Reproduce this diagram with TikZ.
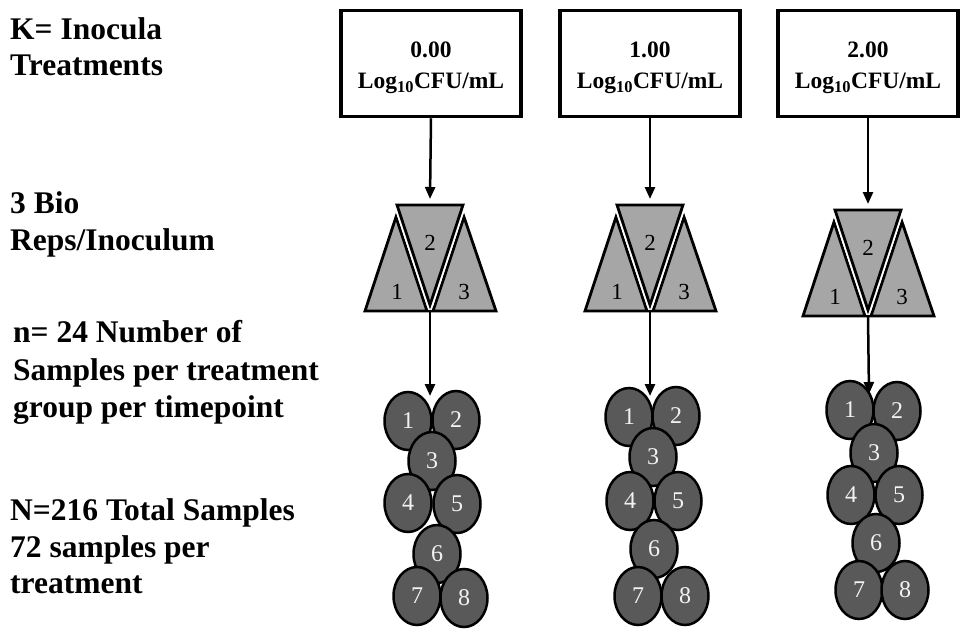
\documentclass[tikz,border=0pt]{standalone}
\usepackage{fontspec}
\setmainfont{Liberation Serif}
\usetikzlibrary{arrows.meta,shapes.geometric}
\definecolor{repgray}{RGB}{166,166,166}
\definecolor{sampgray}{RGB}{89,89,89}
\definecolor{samptext}{RGB}{242,242,242}

\tikzset{
  sidetext/.style={anchor=base west, inner sep=0pt, font=\fontsize{31.5}{37}\selectfont\bfseries},
  dosebox/.style={draw=black, line width=3.5pt, minimum width=180pt, minimum height=106pt, inner sep=0pt},
  dosetext/.style={font=\fontsize{23.5}{31}\selectfont\bfseries, align=center, inner sep=0pt},
  reptri/.style={fill=repgray, draw=black, line width=2.8pt, line join=miter},
  repgap/.style={draw=white, line width=6.5pt, line join=round},
  replabel/.style={font=\fontsize{23}{23}\selectfont, inner sep=0pt},
  samp/.style={ellipse, draw=black, fill=sampgray, line width=2.5pt,
    minimum width=47pt, minimum height=58pt, inner sep=0pt,
    text=samptext, font=\fontsize{24}{24}\selectfont},
  flow/.style={line width=2.5pt, -{Triangle[width=10pt,length=12pt]}},
}

% three biological replicates: two upright triangles and one inverted between them
% #1 = centre x, #2 = vertical shift, #3 = name suffix
\newcommand\repgroup[3]{%
  \path[reptri] ({#1-65},{311+#2}) -- ({#1-34},{217+#2}) -- ({#1-3},{311+#2}) -- cycle;
  \path[reptri] ({#1+3},{311+#2}) -- ({#1+34},{217+#2}) -- ({#1+66},{311+#2}) -- cycle;
  \draw[line width=2.8pt] ({#1-65},{311+#2}) -- ({#1+66},{311+#2});
  \path[repgap] ({#1-33},{205+#2}) -- ({#1+33},{205+#2}) -- (#1,{305+#2}) -- cycle;
  \path[reptri] ({#1-33},{205+#2}) -- ({#1+33},{205+#2}) -- (#1,{305+#2}) -- cycle;
  \node[replabel] (rep#3a) at ({#1-33},{292+#2}) {1};
  \node[replabel] (rep#3b) at (#1,{243+#2}) {2};
  \node[replabel] (rep#3c) at ({#1+34},{292+#2}) {3};
  \coordinate (tri#3in) at (#1,{199+#2});
  \coordinate (tri#3out) at (#1,{311+#2});
}

\begin{document}
\begin{tikzpicture}[x=1pt,y=-1pt]
\useasboundingbox (0,0) rectangle (967,635);

% row captions
\node[sidetext] (capKa) at (10,39) {K= Inocula};
\node[sidetext] (capKb) at (10,75) {Treatments};
\node[sidetext] (capBa) at (10,213) {3 Bio};
\node[sidetext] (capBb) at (10,250) {Reps/Inoculum};
\node[sidetext] (capna) at (13,342) {n= 24 Number of};
\node[sidetext] (capnb) at (13,380) {Samples per treatment};
\node[sidetext] (capnc) at (13,417) {group per timepoint};
\node[sidetext] (capNa) at (10,520) {N=216 Total Samples};
\node[sidetext] (capNb) at (10,557) {72 samples per};
\node[sidetext] (capNc) at (10,593) {treatment};

% inoculum boxes
\node[dosebox] (box1) at (431,63.5) {};
\node[dosebox] (box2) at (650,63.5) {};
\node[dosebox] (box3) at (868,63.5) {};
\node[dosetext] (dose1) at (431,68) {0.00\\Log\textsubscript{10}CFU/mL};
\node[dosetext] (dose2) at (650,68) {1.00\\Log\textsubscript{10}CFU/mL};
\node[dosetext] (dose3) at (868,68) {2.00\\Log\textsubscript{10}CFU/mL};

% replicate triangles
\repgroup{430}{0}{1}
\repgroup{650}{0}{2}
\repgroup{868}{5}{3}

% samples
\node[samp] (s1a) at (408,421) {1};
\node[samp] (s1b) at (456,420) {2};
\node[samp] (s1c) at (432,461) {3};
\node[samp] (s1d) at (408,503) {4};
\node[samp] (s1e) at (457,504) {5};
\node[samp] (s1f) at (437,554) {6};
\node[samp] (s1g) at (417,596) {7};
\node[samp] (s1h) at (464,598) {8};

\node[samp] (s2a) at (629,417) {1};
\node[samp] (s2b) at (676,416) {2};
\node[samp] (s2c) at (653,457) {3};
\node[samp] (s2d) at (630,501) {4};
\node[samp] (s2e) at (678,501) {5};
\node[samp] (s2f) at (654,549) {6};
\node[samp] (s2g) at (638,596) {7};
\node[samp] (s2h) at (685,596) {8};

\node[samp] (s3a) at (850,410) {1};
\node[samp] (s3b) at (897,411) {2};
\node[samp] (s3c) at (874,453) {3};
\node[samp] (s3d) at (851,495) {4};
\node[samp] (s3e) at (899,495) {5};
\node[samp] (s3f) at (876,543) {6};
\node[samp] (s3g) at (859,590) {7};
\node[samp] (s3h) at (905,590) {8};

\coordinate (samp1in) at (430,396);
\coordinate (samp2in) at (650,396);
\coordinate (samp3in) at (869,394);

% connectors
\draw[flow] (box1.south) -- (tri1in);
\draw[flow] (box2.south) -- (tri2in);
\draw[flow] (box3.south) -- (tri3in);
\draw[flow] (tri1out) -- (samp1in);
\draw[flow] (tri2out) -- (samp2in);
\draw[flow] (tri3out) -- (samp3in);
\end{tikzpicture}
\end{document}
